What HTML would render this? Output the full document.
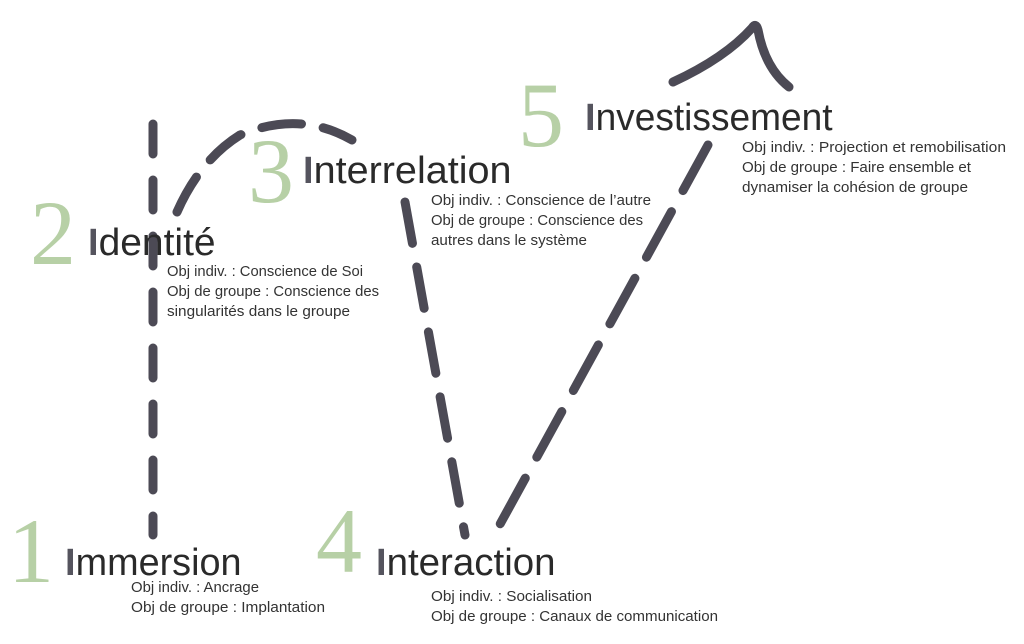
<!DOCTYPE html>
<html><head><meta charset="utf-8"><style>
html,body{margin:0;padding:0;background:#fff;}
svg{display:block}
.t{font-family:"Liberation Sans Narrow","Liberation Sans",sans-serif;font-size:38px;fill:#2a2a2a}
.b{fill:#55545e;font-weight:bold}
.s{font-family:"Liberation Sans Narrow","Liberation Sans",sans-serif;font-size:15px;fill:#333}
.n{font-family:"Liberation Serif",serif;font-size:92px;fill:#b7d0a6}
.l{fill:none;stroke:#4c4a55;stroke-width:9;stroke-linecap:round}
</style></head><body>
<svg width="1024" height="644" viewBox="0 0 1024 644">
<path class="l" d="M153 124 L153 535" stroke-dasharray="30 26"/>
<path class="l" d="M177 212 Q200 160 240 135 Q300 110 352 140" stroke-dasharray="40 22"/>
<path class="l" d="M405 202 L465 535" stroke-dasharray="42 24"/>
<path class="l" d="M708 145 L493 537" stroke-dasharray="52 24"/>
<path class="l" d="M673 82 Q725 58 752 28 Q756 22 758 30 Q765 68 789 87"/>

<text class="n" x="8" y="582">1</text>
<text class="t" x="65" y="575"><tspan class="b">I</tspan><tspan textLength="166" lengthAdjust="spacingAndGlyphs">mmersion</tspan></text>
<text class="s" x="131" y="592" textLength="128" lengthAdjust="spacingAndGlyphs">Obj indiv. : Ancrage</text>
<text class="s" x="131" y="612" textLength="194" lengthAdjust="spacingAndGlyphs">Obj de groupe : Implantation</text>

<text class="n" x="30" y="264">2</text>
<text class="t" x="88" y="255"><tspan class="b">I</tspan><tspan textLength="117" lengthAdjust="spacingAndGlyphs">dentité</tspan></text>
<text class="s" x="167" y="276" textLength="196" lengthAdjust="spacingAndGlyphs">Obj indiv. : Conscience de Soi</text>
<text class="s" x="167" y="296" textLength="212" lengthAdjust="spacingAndGlyphs">Obj de groupe : Conscience des</text>
<text class="s" x="167" y="316" textLength="183" lengthAdjust="spacingAndGlyphs">singularités dans le groupe</text>

<text class="n" x="248" y="202">3</text>
<text class="t" x="303" y="183"><tspan class="b">I</tspan><tspan textLength="198" lengthAdjust="spacingAndGlyphs">nterrelation</tspan></text>
<text class="s" x="431" y="205" textLength="220" lengthAdjust="spacingAndGlyphs">Obj indiv. : Conscience de l’autre</text>
<text class="s" x="431" y="225" textLength="212" lengthAdjust="spacingAndGlyphs">Obj de groupe : Conscience des</text>
<text class="s" x="431" y="245" textLength="156" lengthAdjust="spacingAndGlyphs">autres dans le système</text>

<text class="n" x="316" y="572">4</text>
<text class="t" x="376" y="575"><tspan class="b">I</tspan><tspan textLength="169" lengthAdjust="spacingAndGlyphs">nteraction</tspan></text>
<text class="s" x="431" y="601" textLength="161" lengthAdjust="spacingAndGlyphs">Obj indiv. : Socialisation</text>
<text class="s" x="431" y="621" textLength="287" lengthAdjust="spacingAndGlyphs">Obj de groupe : Canaux de communication</text>

<text class="n" x="518" y="146">5</text>
<text class="t" x="585" y="130"><tspan class="b">I</tspan><tspan textLength="237" lengthAdjust="spacingAndGlyphs">nvestissement</tspan></text>
<text class="s" x="742" y="152" textLength="264" lengthAdjust="spacingAndGlyphs">Obj indiv. : Projection et remobilisation</text>
<text class="s" x="742" y="172" textLength="229" lengthAdjust="spacingAndGlyphs">Obj de groupe : Faire ensemble et</text>
<text class="s" x="742" y="192" textLength="226" lengthAdjust="spacingAndGlyphs">dynamiser la cohésion de groupe</text>
</svg>
</body></html>
